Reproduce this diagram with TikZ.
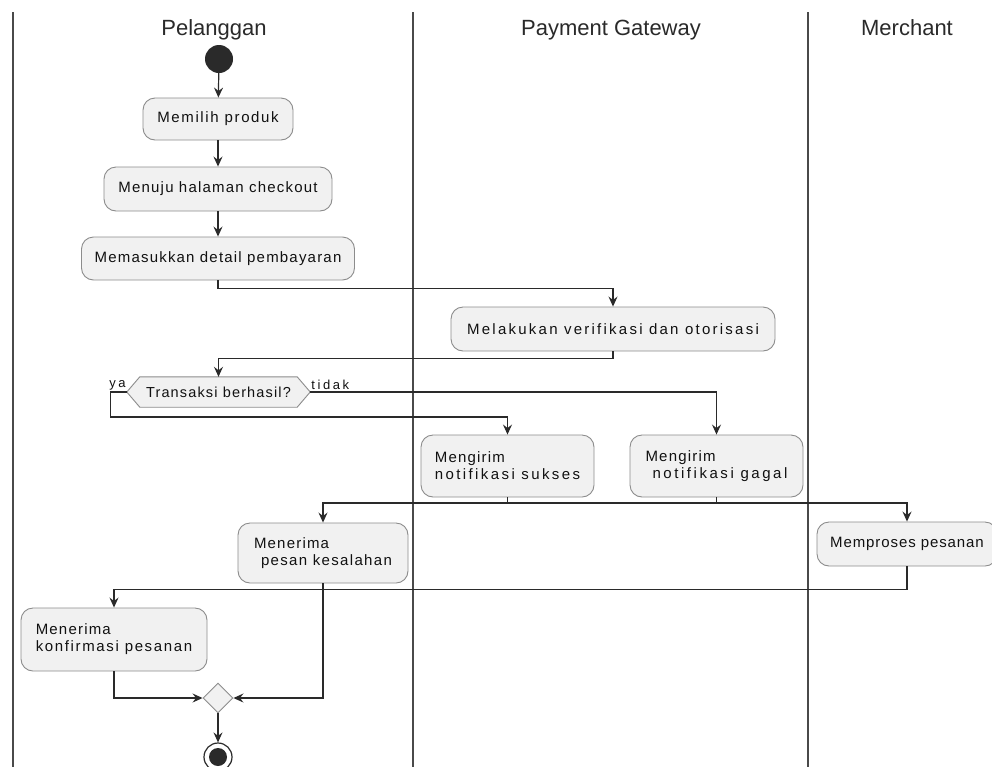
\documentclass[tikz,border=0pt]{standalone}
\usepackage{fontspec}
\setmainfont{Liberation Sans}
\newfontfamily\boxfont{Liberation Sans}[LetterSpace=8]
\newcommand\lsp[1]{\addfontfeature{LetterSpace=#1}}
\usetikzlibrary{arrows.meta,shapes.geometric,backgrounds}
\definecolor{boxfill}{HTML}{F1F1F1}
\definecolor{boxline}{HTML}{8C8C8C}
\definecolor{ink}{HTML}{2A2A2A}
\definecolor{txt}{HTML}{111111}
\definecolor{lane}{HTML}{4A4A4A}
\begin{document}
\begin{tikzpicture}[x=1pt,y=-1pt,
  act/.style={draw=boxline, line width=0.9pt, fill=boxfill, rounded corners=12pt,
    inner sep=0pt, text=txt, align=left, font={\boxfont\fontsize{15}{17}\selectfont}},
  conn/.style={draw=ink, line width=1.2pt, -{Stealth[length=10pt,width=9pt,inset=3.5pt]}},
  plainline/.style={draw=ink, line width=1.2pt},
  lanehead/.style={font={\fontsize{22}{26}\selectfont}, text=ink, anchor=base, inner sep=0pt},
  laneline/.style={draw=lane, line width=2pt},
  lbl/.style={font={\boxfont\lsp{20}\fontsize{13}{15}\selectfont}, text=txt, inner sep=1pt}]
\useasboundingbox (0,0) rectangle (992,766);

% swimlanes
\coordinate (l0t) at (13,12);  \coordinate (l0b) at (13,770);
\coordinate (l1t) at (413,12); \coordinate (l1b) at (413,770);
\coordinate (l2t) at (808,12); \coordinate (l2b) at (808,770);
\draw[laneline] (l0t) -- (l0b);
\draw[laneline] (l1t) -- (l1b);
\draw[laneline] (l2t) -- (l2b);
\node[lanehead] (h1) at (214,35) {Pelanggan};
\node[lanehead] (h2) at (611,35) {Payment Gateway};
\node[lanehead] (h3) at (907,35) {Merchant};

% nodes
\node[circle, fill=ink, minimum size=28pt, inner sep=0pt] (start) at (219,59) {};
\node[act, minimum width=150pt, minimum height=42pt, font={\boxfont\lsp{11}\fontsize{15}{17}\selectfont}] (a1) at (218,119) {Memilih produk};
\node[act, minimum width=228pt, minimum height=44pt] (a2) at (218,189) {Menuju halaman checkout};
\node[act, minimum width=273pt, minimum height=43pt] (a3) at (218,258.5) {Memasukkan detail pembayaran};
\node[act, minimum width=324pt, minimum height=44pt, font={\boxfont\lsp{15}\fontsize{15}{17}\selectfont}] (a4) at (613,329) {Melakukan verifikasi dan otorisasi};

\node[inner sep=0pt, minimum width=183pt, minimum height=30pt, text=txt,
  font={\boxfont\lsp{8}\fontsize{14.5}{17}\selectfont}] (dec) at (218.5,392) {Transaksi berhasil?};
\begin{scope}[on background layer]
\fill[white] (0,0) rectangle (992,766);
\draw[draw=boxline, fill=boxfill, line width=0.9pt]
  (dec.west) -- ([xshift=13pt]dec.north west) -- ([xshift=-13pt]dec.north east)
  -- (dec.east) -- ([xshift=-13pt]dec.south east) -- ([xshift=13pt]dec.south west) -- cycle;
\end{scope}
\node[lbl, anchor=south east] (ya) at ([yshift=1pt]dec.west) {ya};
\node[lbl, anchor=south west] (tidak) at ([yshift=1pt]dec.east) {tidak};

\node[act, minimum width=173pt, minimum height=62pt] (b1) at (507.5,466) {Mengirim\\{\lsp{16}notifikasi sukses}};
\node[act, minimum width=173pt, minimum height=62pt] (b2) at (716.5,466) {Mengirim\\\hspace*{7pt}{\lsp{17}notifikasi gagal}};

\node[act, minimum width=170pt, minimum height=60pt] (c1) at (323,553) {Menerima\\\hspace*{7pt}{\lsp{9}pesan kesalahan}};
\node[act, minimum width=180pt, minimum height=44pt, font={\boxfont\lsp{6}\fontsize{15}{17}\selectfont}] (c2) at (907,544) {Memproses pesanan};

\node[act, minimum width=186pt, minimum height=63pt] (d1) at (114,639.5) {Menerima\\{\lsp{11}konfirmasi pesanan}};

\node[diamond, aspect=1, draw=boxline, line width=0.9pt, fill=boxfill, inner sep=0pt, minimum width=30pt, minimum height=30pt] (m) at (218,698) {};
\node[circle, draw=ink, line width=1.2pt, fill=white, minimum size=28pt, inner sep=0pt] (end) at (218,757) {};
\fill[ink] (end.center) circle (9pt);

% connectors
\draw[conn] (start) -- (a1);
\draw[conn] (a1) -- (a2);
\draw[conn] (a2) -- (a3);
\draw[conn] (a3.south) -- ++(0,8) -| (a4.north);
\draw[conn] (a4.south) -- ++(0,7) -| (dec.north);
\draw[conn] (dec.west) -- ++(-16,0) -- ++(0,25) -| (b1.north);
\draw[conn] (dec.east) -| (b2.north);
\coordinate (j) at (0,503);
\draw[conn] (b1.south) -- (b1.south |- j) -| (c1.north);
\draw[conn] (b2.south) -- (b2.south |- j) -| (c2.north);
\draw[plainline] (b1.south |- j) -- (b2.south |- j);
\draw[conn] (c2.south) -- ++(0,23) -| (d1.north);
\draw[conn] (d1.south) |- (m.west);
\draw[conn] (c1.south) |- (m.east);
\draw[conn] (m.south) -- (end.north);
\end{tikzpicture}
\end{document}
